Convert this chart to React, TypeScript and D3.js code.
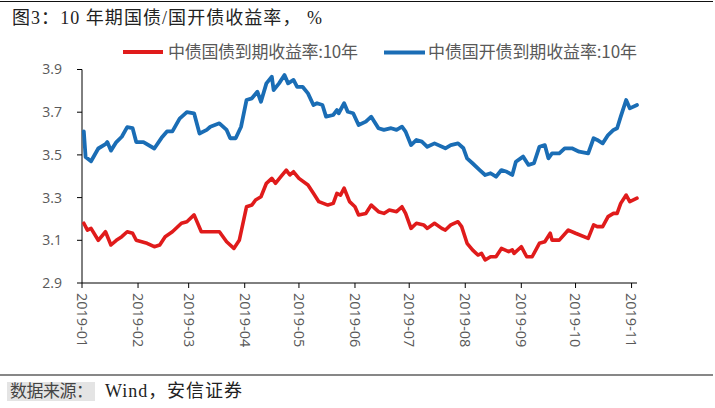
import React from "react";
import * as d3 from "d3";

const govDates = [
  "2019-01-02","2019-01-04","2019-01-06","2019-01-10","2019-01-14","2019-01-17","2019-01-20","2019-01-23","2019-01-26","2019-01-29","2019-01-31",
  "2019-02-06","2019-02-10","2019-02-13","2019-02-16","2019-02-20","2019-02-25","2019-02-28",
  "2019-03-04","2019-03-08","2019-03-12","2019-03-18","2019-03-22","2019-03-26","2019-03-29",
  "2019-04-02","2019-04-05","2019-04-07","2019-04-10","2019-04-13","2019-04-16","2019-04-18","2019-04-21","2019-04-24","2019-04-26","2019-04-28",
  "2019-05-01","2019-05-06","2019-05-09","2019-05-12","2019-05-17","2019-05-20","2019-05-22","2019-05-24","2019-05-26","2019-05-29",
  "2019-06-01","2019-06-03","2019-06-07","2019-06-10","2019-06-14","2019-06-17","2019-06-20","2019-06-24","2019-06-27","2019-06-29",
  "2019-07-02","2019-07-05","2019-07-09","2019-07-11","2019-07-15","2019-07-19","2019-07-21","2019-07-24","2019-07-28","2019-07-30",
  "2019-08-02","2019-08-05","2019-08-08","2019-08-10","2019-08-12","2019-08-15","2019-08-18","2019-08-21","2019-08-25","2019-08-27","2019-08-28",
  "2019-09-01","2019-09-04","2019-09-07","2019-09-11","2019-09-14","2019-09-17","2019-09-18","2019-09-22","2019-09-27",
  "2019-10-01","2019-10-08","2019-10-11","2019-10-13","2019-10-16","2019-10-19","2019-10-22","2019-10-24","2019-10-26","2019-10-29","2019-10-31",
  "2019-11-04"
];
const govValues = [
  3.18,3.148,3.156,3.10,3.14,3.078,3.10,3.117,3.14,3.133,3.10,
  3.086,3.07,3.078,3.117,3.14,3.18,3.187,
  3.219,3.14,3.14,3.14,3.093,3.062,3.10,
  3.257,3.265,3.289,3.304,3.367,3.39,3.367,3.398,3.429,3.406,3.421,
  3.39,3.359,3.32,3.281,3.265,3.273,3.32,3.312,3.344,3.281,
  3.257,3.219,3.226,3.265,3.234,3.226,3.242,3.234,3.257,3.226,
  3.156,3.18,3.172,3.156,3.18,3.156,3.148,3.172,3.187,3.164,
  3.086,3.055,3.031,3.039,3.008,3.023,3.023,3.062,3.047,3.055,3.039,
  3.07,3.023,3.023,3.086,3.093,3.133,3.101,3.101,3.148,
  3.133,3.109,3.172,3.164,3.164,3.211,3.226,3.226,3.273,3.312,3.281,
  3.297
];

const cdbDates = [
  "2019-01-02","2019-01-03","2019-01-06","2019-01-10","2019-01-14","2019-01-15","2019-01-17","2019-01-20","2019-01-23","2019-01-26","2019-01-29","2019-01-31",
  "2019-02-04","2019-02-10","2019-02-14","2019-02-17","2019-02-20","2019-02-24","2019-02-28",
  "2019-03-04","2019-03-07","2019-03-11","2019-03-13","2019-03-18","2019-03-22","2019-03-24","2019-03-27","2019-03-30",
  "2019-04-02","2019-04-05","2019-04-08","2019-04-10","2019-04-13","2019-04-16","2019-04-17","2019-04-20","2019-04-23","2019-04-25","2019-04-28","2019-04-30",
  "2019-05-03","2019-05-06","2019-05-09","2019-05-11","2019-05-14","2019-05-16","2019-05-20","2019-05-22","2019-05-23","2019-05-26","2019-05-28","2019-05-31",
  "2019-06-03","2019-06-07","2019-06-10","2019-06-14","2019-06-17","2019-06-21","2019-06-24","2019-06-27","2019-06-29",
  "2019-07-02","2019-07-05","2019-07-08","2019-07-11","2019-07-15","2019-07-21","2019-07-24","2019-07-28","2019-07-31",
  "2019-08-02","2019-08-05","2019-08-09","2019-08-12","2019-08-15","2019-08-18","2019-08-21","2019-08-24","2019-08-27","2019-08-29",
  "2019-09-02","2019-09-05","2019-09-08","2019-09-11","2019-09-14","2019-09-16","2019-09-18","2019-09-22","2019-09-25","2019-09-29",
  "2019-10-03","2019-10-08","2019-10-11","2019-10-13","2019-10-16","2019-10-19","2019-10-22","2019-10-24","2019-10-26","2019-10-29","2019-10-31",
  "2019-11-04"
];
const cdbValues = [
  3.61,3.49,3.47,3.53,3.55,3.56,3.52,3.56,3.585,3.63,3.625,3.56,
  3.56,3.53,3.58,3.61,3.61,3.67,3.70,
  3.695,3.60,3.617,3.632,3.648,3.617,3.578,3.578,3.632,
  3.757,3.765,3.796,3.749,3.835,3.866,3.804,3.835,3.874,3.835,3.851,3.819,
  3.819,3.788,3.734,3.742,3.734,3.679,3.687,3.71,3.695,3.742,3.702,3.695,
  3.64,3.656,3.679,3.625,3.617,3.625,3.617,3.632,3.609,
  3.546,3.57,3.562,3.538,3.554,3.531,3.546,3.554,3.531,
  3.484,3.461,3.429,3.406,3.414,3.398,3.429,3.421,3.406,3.468,
  3.492,3.453,3.461,3.538,3.546,3.484,3.507,3.507,3.531,3.531,
  3.515,3.507,3.578,3.57,3.554,3.593,3.617,3.625,3.679,3.757,3.718,
  3.734
];

const yTicks = [2.9, 3.1, 3.3, 3.5, 3.7, 3.9];
const seriesNames = ["中债国债到期收益率:10年", "中债国开债到期收益率:10年"];
const titleText = "图3：10 年期国债/国开债收益率，  %";
const sourceLabel = "数据来源：";
const sourceText = "Wind，安信证券";

const parse = d3.timeParse("%Y-%m-%d");
const fmtMonth = d3.timeFormat("%Y-%m");

export default function App() {
  const W = 715, H = 408;
  const x = d3.scaleTime()
    .domain([parse("2019-01-01")!, parse("2019-11-04")!])
    .range([82, 637]);
  const y = d3.scaleLinear().domain([2.9, 3.9]).range([283, 69.5]);
  const xTicks = d3.timeMonth.range(parse("2019-01-01")!, parse("2019-11-02")!);

  const gov = govDates.map((d, i) => ({ d: parse(d)!, v: govValues[i] }));
  const cdb = cdbDates.map((d, i) => ({ d: parse(d)!, v: cdbValues[i] }));
  const line = d3.line<{ d: Date; v: number }>().x(p => x(p.d)).y(p => y(p.v));

  const gray = "#595959";
  const sansCJK = "'Noto Sans CJK SC', 'Noto Sans', sans-serif";
  const serifFont = "'Liberation Serif', 'Noto Sans CJK SC', serif";
  const numFont = "'Open Sans', 'Liberation Sans', sans-serif";

  return (
    <div style={{ position: "fixed", left: 0, top: 0 }}>
      <svg width={W} height={H} style={{ display: "block", background: "#fff" }}>
        <line x1={0} x2={713} y1={1.5} y2={1.5} stroke="#111" strokeWidth={1.2} />
        <text x={12} y={24} fontSize={18} fontFamily={serifFont} fill="#222"
          textLength={310} lengthAdjust="spacing">{titleText}</text>

        {/* legend */}
        <line x1={123} x2={163} y1={52} y2={52} stroke="#E01B1B" strokeWidth={4} />
        <text x={168} y={58} fontSize={17} fontFamily={sansCJK} fill={gray}
          textLength={190} lengthAdjust="spacing">{seriesNames[0]}</text>
        <line x1={384} x2={425} y1={52.5} y2={52.5} stroke="#1A6DB5" strokeWidth={4} />
        <text x={428} y={58} fontSize={17} fontFamily={sansCJK} fill={gray}
          textLength={209} lengthAdjust="spacing">{seriesNames[1]}</text>

        {/* y axis */}
        <line x1={82} x2={82} y1={y(3.9)} y2={y(2.9)} stroke="#000" strokeWidth={1} />
        {yTicks.map(t => (
          <g key={t}>
            <line x1={77} x2={82} y1={y(t)} y2={y(t)} stroke="#000" strokeWidth={1} />
            <text x={62} y={y(t)} dy="0.35em" textAnchor="end" fontSize={14}
              fontFamily={numFont} fill={gray}>{d3.format(".1f")(t)}</text>
          </g>
        ))}

        {/* x axis */}
        <line x1={82} x2={637} y1={283} y2={283} stroke="#000" strokeWidth={1} />
        {xTicks.map(t => (
          <g key={t.getTime()}>
            <line x1={x(t)} x2={x(t)} y1={283} y2={288} stroke="#000" strokeWidth={1} />
            <text transform={`translate(${x(t)},293) rotate(90)`} dy="0.35em" fontSize={14.5}
              fontFamily={numFont} fill={gray}>{fmtMonth(t)}</text>
          </g>
        ))}

        {/* series */}
        <path d={line(gov)!} fill="none" stroke="#E01B1B" strokeWidth={3.6} strokeLinejoin="round" strokeLinecap="round" />
        <path d={line(cdb)!} fill="none" stroke="#1A6DB5" strokeWidth={3.8} strokeLinejoin="round" strokeLinecap="round" />

        {/* footer */}
        <line x1={0} x2={713} y1={375} y2={375} stroke="#111" strokeWidth={1.2} />
        <rect x={7} y={382} width={88} height={19} fill="#e4e4e4" />
        <text x={10} y={397} fontSize={17} fontFamily={serifFont} fill="#444"
          textLength={83} lengthAdjust="spacing">{sourceLabel}</text>
        <text x={105} y={397} fontSize={18} fontFamily={serifFont} fill="#222"
          textLength={137} lengthAdjust="spacing">{sourceText}</text>
      </svg>
    </div>
  );
}
